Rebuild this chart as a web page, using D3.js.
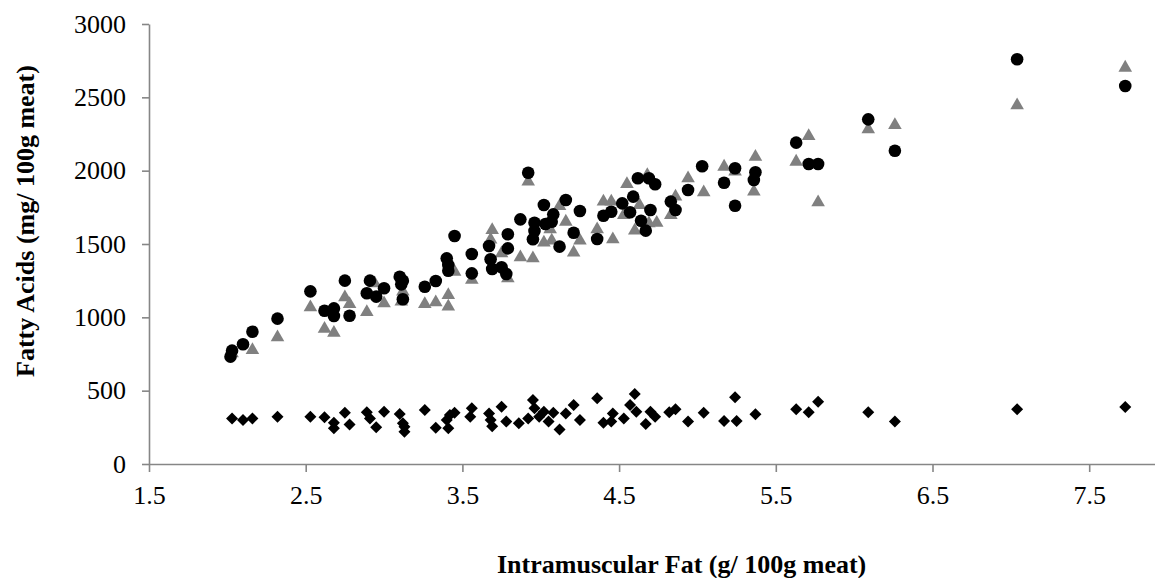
<!DOCTYPE html>
<html>
<head>
<meta charset="utf-8">
<script src="https://cdn.jsdelivr.net/npm/d3@7"></script>
<style>
  body { margin: 0; background: #fff; }
  svg { display: block; overflow: hidden; }
</style>
</head>
<body>
<div id="scatter"></div>
<script>

// Intramuscular fat (g/100g) and fatty acids (mg/100g)
const circleX = [2.02, 2.03, 2.10, 2.16, 2.32, 2.53, 2.62, 2.68, 2.68, 2.75, 2.78, 2.91, 2.89, 2.95, 3.00,
    3.10, 3.12, 3.11, 3.12, 3.26, 3.33, 3.40, 3.41, 3.41, 3.45, 3.56, 3.56, 3.67, 3.68, 3.69, 3.75, 3.78,
    3.79, 3.79, 3.87, 3.92, 3.95, 3.96, 3.96, 4.02, 4.03, 4.07, 4.08, 4.12, 4.16, 4.21, 4.25, 4.36, 4.40,
    4.45, 4.52, 4.57, 4.59, 4.62, 4.64, 4.67, 4.69, 4.70, 4.73, 4.83, 4.86, 4.94, 5.03, 5.17, 5.24, 5.24,
    5.36, 5.37, 5.63, 5.71, 5.77, 6.09, 6.26, 7.04, 7.73];
const circleY = [732, 773, 816, 902, 991, 1177, 1045, 1061, 1009, 1250, 1011, 1250, 1164, 1141, 1198,
    1277, 1250, 1225, 1123, 1209, 1248, 1402, 1357, 1318, 1555, 1432, 1300, 1486, 1396, 1330, 1341, 1295,
    1470, 1566, 1668, 1986, 1532, 1589, 1645, 1766, 1636, 1652, 1702, 1482, 1800, 1577, 1725, 1534, 1693,
    1720, 1777, 1716, 1823, 1948, 1659, 1591, 1948, 1732, 1907, 1789, 1732, 1868, 2030, 1918, 2016, 1761,
    1936, 1989, 2191, 2045, 2045, 2350, 2136, 2760, 2577];

const triangleX = [2.03, 2.16, 2.32, 2.53, 2.62, 2.68, 2.75, 2.78, 2.89, 2.94, 3.00, 3.11, 3.12, 3.26,
    3.33, 3.41, 3.41, 3.45, 3.56, 3.68, 3.69, 3.75, 3.79, 3.87, 3.92, 3.95, 4.02, 4.06, 4.07, 4.12, 4.16,
    4.21, 4.25, 4.36, 4.40, 4.45, 4.46, 4.53, 4.55, 4.60, 4.63, 4.68, 4.69, 4.74, 4.83, 4.86, 4.94, 5.04,
    5.17, 5.24, 5.36, 5.37, 5.63, 5.71, 5.77, 6.09, 6.26, 7.04, 7.73];
const triangleY = [755, 777, 864, 1068, 922, 895, 1136, 1091, 1036, 1232, 1096, 1107, 1175, 1091,
    1102, 1152, 1073, 1311, 1255, 1530, 1595, 1436, 1266, 1409, 1925, 1402, 1509, 1600, 1523, 1759, 1652,
    1441, 1523, 1600, 1789, 1789, 1532, 1698, 1909, 1591, 1766, 1970, 1641, 1645, 1698, 1823, 1948, 1852,
    2027, 1993, 1857, 2095, 2061, 2236, 1784, 2282, 2311, 2446, 2702];

const diamondX = [2.03, 2.10, 2.16, 2.32, 2.53, 2.62, 2.68, 2.68, 2.75, 2.78, 2.89, 2.91, 2.95, 3.00,
    3.10, 3.12, 3.13, 3.13, 3.26, 3.33, 3.40, 3.41, 3.42, 3.45, 3.56, 3.55, 3.67, 3.68, 3.69, 3.75, 3.78,
    3.86, 3.92, 3.95, 3.96, 3.99, 4.02, 4.05, 4.08, 4.12, 4.16, 4.21, 4.25, 4.36, 4.40, 4.46, 4.45, 4.53,
    4.57, 4.60, 4.61, 4.67, 4.70, 4.73, 4.82, 4.86, 4.94, 5.04, 5.17, 5.24, 5.25, 5.37, 5.63, 5.71, 5.77,
    6.09, 6.26, 7.04, 7.73];
const diamondY = [311, 300, 311, 323, 323, 318, 282, 243, 350, 270, 352, 311, 250, 357,
    341, 277, 254, 220, 368, 248, 300, 243, 334, 350, 380, 323, 345, 300, 258, 391, 289,
    277, 311, 436, 380, 323, 357, 289, 350, 236, 345, 402, 300, 448, 282, 345, 289, 311,
    402, 477, 357, 273, 357, 323, 352, 373, 289, 350, 293, 455, 293, 339, 373, 352, 425,
    352, 289, 373, 389];

const xTicks = [1.5, 2.5, 3.5, 4.5, 5.5, 6.5, 7.5];
const yTicks = [0, 500, 1000, 1500, 2000, 2500, 3000];

const margin = {top: 24, left: 149, bottom: 114},
    fullWidth = 1155,
    fullHeight = 578,
    height = fullHeight - margin.top - margin.bottom;

const fontFamily = "'Liberation Serif', 'Times New Roman', Times, serif";
const axisGrey = "#868686";

const svg = d3.select("#scatter")
    .append("svg")
    .attr("width", fullWidth)
    .attr("height", fullHeight);

const g = svg.append("g")
    .attr("transform", `translate(${margin.left},${margin.top})`);

// the axis runs off the right edge, as in the original
const x = d3.scaleLinear()
    .domain([1.5, 8])
    .range([0, 6.5 * 156.7]);

const y = d3.scaleLinear()
    .domain([0, 3000])
    .range([height, 0]);

const xAxis = g.append("g")
    .attr("transform", `translate(0, ${height})`)
    .call(d3.axisBottom(x).tickValues(xTicks).tickFormat(d3.format(".1f"))
        .tickSize(8).tickSizeOuter(0).tickPadding(14));

const yAxis = g.append("g")
    .call(d3.axisLeft(y).tickValues(yTicks).tickFormat(d3.format("d"))
        .tickSize(7).tickSizeOuter(0).tickPadding(16));

[xAxis, yAxis].forEach(ax => {
    ax.select(".domain").attr("stroke", axisGrey).attr("stroke-width", 1.6);
    ax.selectAll(".tick line").attr("stroke", axisGrey).attr("stroke-width", 1.6);
    ax.selectAll(".tick text")
        .attr("fill", "#000")
        .style("font-family", fontFamily)
        .style("font-size", "26px");
});

const toPoints = (xs, ys) => xs.map((v, i) => ({x: v, y: ys[i]}));

// diamonds first, then triangles, circles on top
g.append("g")
    .selectAll("path")
    .data(toPoints(diamondX, diamondY))
    .join("path")
    .attr("transform", d => `translate(${x(d.x)},${y(d.y)}) rotate(45)`)
    .attr("d", d3.symbol(d3.symbolSquare, 72)())
    .attr("fill", "#000");

g.append("g")
    .selectAll("path")
    .data(toPoints(triangleX, triangleY))
    .join("path")
    .attr("transform", d => `translate(${x(d.x)},${y(d.y)})`)
    .attr("d", d3.symbol(d3.symbolTriangle, 80)())
    .attr("fill", "#808080");

g.append("g")
    .selectAll("circle")
    .data(toPoints(circleX, circleY))
    .join("circle")
    .attr("cx", d => x(d.x))
    .attr("cy", d => y(d.y))
    .attr("r", 6.3)
    .attr("fill", "#000");

//x axis label
svg.append("text")
    .attr("x", 497)
    .attr("y", 573)
    .style("font-family", fontFamily)
    .style("font-size", "26px")
    .style("font-weight", "bold")
    .text("Intramuscular Fat (g/ 100g meat)");

//y axis label
svg.append("text")
    .attr("transform", "translate(34, 377) rotate(-90)")
    .style("font-family", fontFamily)
    .style("font-size", "26px")
    .style("font-weight", "bold")
    .text("Fatty Acids (mg/ 100g meat)");

</script>
</body>
</html>
